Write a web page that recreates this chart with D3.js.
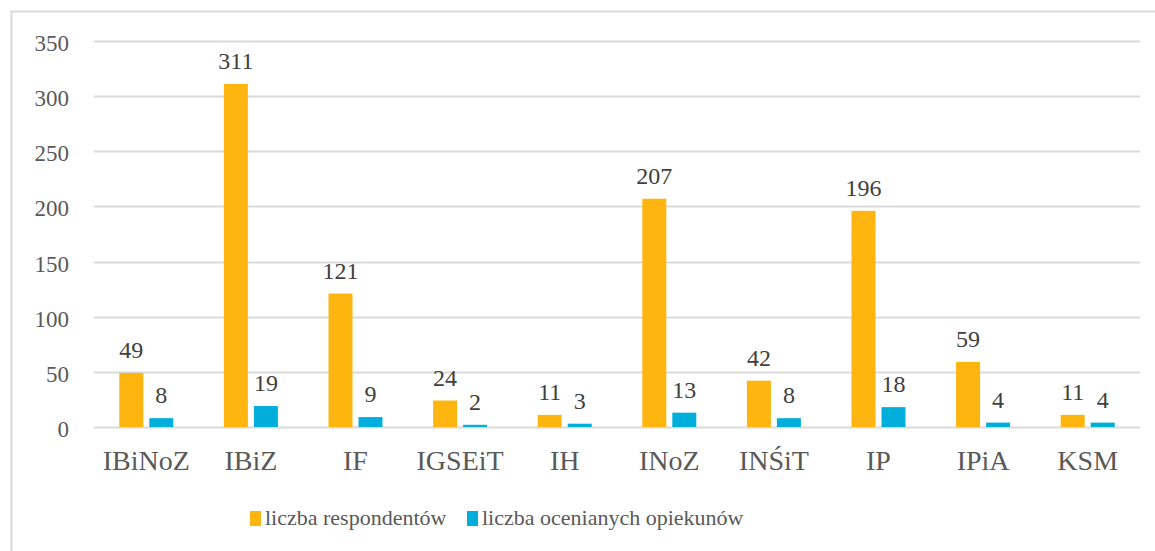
<!DOCTYPE html>
<html lang="pl">
<head>
  <meta charset="utf-8" />
  <script src="https://d3js.org/d3.v7.min.js"></script>
  <style>
    body { margin: 0; background: #fff; }
    text { font-family: "Liberation Serif", "DejaVu Serif", serif; fill: #595959; }
    .val { fill: #404040; }
  </style>
</head>
<body>
  <script>
    var categories = ["IBiNoZ", "IBiZ", "IF", "IGSEiT", "IH", "INoZ", "INŚiT", "IP", "IPiA", "KSM"];
    var respondenci = [49, 311, 121, 24, 11, 207, 42, 196, 59, 11];
    var opiekunowie = [8, 19, 9, 2, 3, 13, 8, 18, 4, 4];
    var seriesNames = ["liczba respondentów", "liczba ocenianych opiekunów"];
    var seriesColors = ["#FFB50F", "#00AEDB"];
    var yTicks = [0, 50, 100, 150, 200, 250, 300, 350];

    var width = 1155, height = 551;

    var svg = d3.select("body").append("svg")
      .attr("width", width)
      .attr("height", height);

    // ramka wykresu (prawa i dolna krawedz poza kadrem)
    svg.append("rect")
      .attr("x", 11.5).attr("y", 11.5)
      .attr("width", 1200).attr("height", 600)
      .attr("fill", "none")
      .attr("stroke", "#D9D9D9")
      .attr("stroke-width", 2);

    var x = d3.scaleBand()
      .domain(categories)
      .range([94, 1140]);

    var y = d3.scaleLinear()
      .domain([0, 350])
      .range([427, 41]);

    var barW = 24, gap = 6;

    // siatka
    svg.append("g").selectAll("line")
      .data(yTicks)
      .enter().append("line")
      .attr("x1", 94).attr("x2", 1140)
      .attr("y1", function (d) { return Math.round(y(d)) + 0.5; })
      .attr("y2", function (d) { return Math.round(y(d)) + 0.5; })
      .attr("stroke", "#D9D9D9")
      .attr("stroke-width", 2);

    // opisy osi Y
    svg.append("g").selectAll("text")
      .data(yTicks)
      .enter().append("text")
      .attr("x", 69)
      .attr("y", function (d) { return y(d) + 10; })
      .attr("text-anchor", "end")
      .attr("font-size", 23)
      .text(function (d) { return d; });

    var series = [respondenci, opiekunowie];
    var groups = svg.append("g");

    series.forEach(function (vals, s) {
      var offset = s * (barW + gap) - (barW * 2 + gap) / 2;
      groups.append("g").selectAll("rect")
        .data(categories)
        .enter().append("rect")
        .attr("x", function (d) { return x(d) + x.bandwidth() / 2 + offset; })
        .attr("y", function (d, i) { return y(vals[i]); })
        .attr("width", barW)
        .attr("height", function (d, i) { return y(0) - y(vals[i]); })
        .attr("fill", seriesColors[s]);

      groups.append("g").selectAll("text")
        .data(categories)
        .enter().append("text")
        .attr("class", "val")
        .attr("x", function (d) { return x(d) + x.bandwidth() / 2 + offset + barW / 2; })
        .attr("y", function (d, i) { return y(vals[i]) - 15; })
        .attr("text-anchor", "middle")
        .attr("font-size", 24)
        .text(function (d, i) { return vals[i]; });
    });

    // kategorie
    svg.append("g").selectAll("text")
      .data(categories)
      .enter().append("text")
      .attr("x", function (d) { return x(d) + x.bandwidth() / 2; })
      .attr("y", 470)
      .attr("text-anchor", "middle")
      .attr("font-size", 28)
      .text(function (d) { return d; });

    // legenda
    var legendX = [250, 467];
    var legend = svg.append("g");
    seriesNames.forEach(function (name, s) {
      legend.append("rect")
        .attr("x", legendX[s]).attr("y", 511)
        .attr("width", 11).attr("height", 15)
        .attr("fill", seriesColors[s]);
      legend.append("text")
        .attr("x", legendX[s] + 15)
        .attr("y", 525)
        .attr("font-size", 22)
        .text(name);
    });
  </script>
</body>
</html>
